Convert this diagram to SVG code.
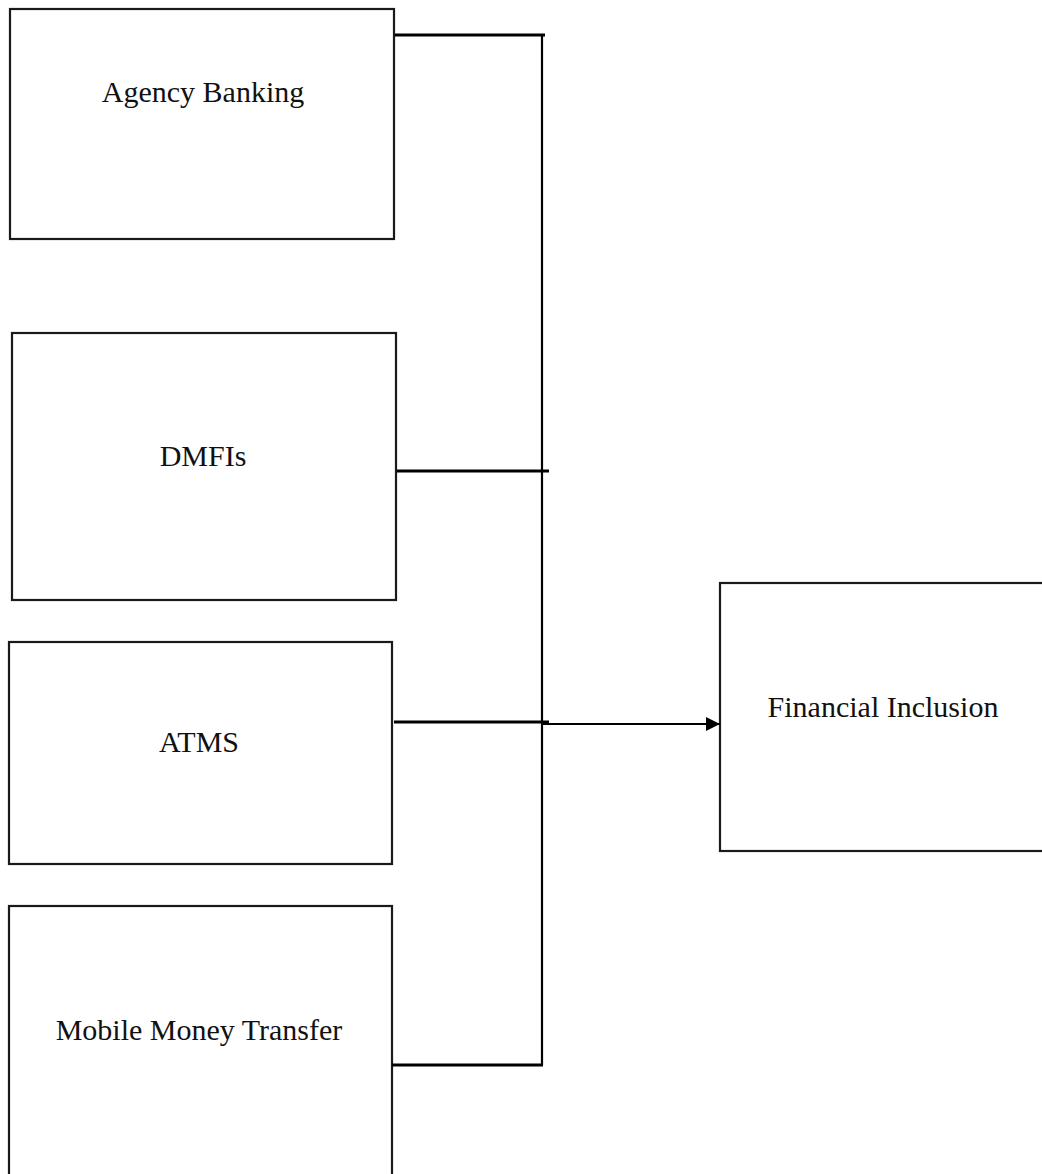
<svg xmlns="http://www.w3.org/2000/svg" width="1042" height="1174" viewBox="0 0 1042 1174">
  <style>
    .box { fill: #ffffff; stroke: #1a1a1a; stroke-width: 2.2; }
    .lbl { font-family: "Liberation Serif", "Times New Roman", serif; font-size: 30px; fill: #111111; text-anchor: middle; }
    .thick { stroke: #000000; stroke-width: 3.2; fill: none; }
    .vert { stroke: #000000; stroke-width: 2.2; fill: none; }
    .thin { stroke: #000000; stroke-width: 1.8; fill: none; }
  </style>
  <defs>
    <marker id="arrow" markerUnits="userSpaceOnUse" markerWidth="14" markerHeight="14" refX="14" refY="7" orient="auto">
      <path d="M0,0 L14,7 L0,14 Z" fill="#000000"/>
    </marker>
  </defs>
  <rect width="1042" height="1174" fill="#ffffff"/>

  <g id="node-agency-banking">
    <rect class="box" x="10" y="9" width="384" height="230"/>
    <text class="lbl" x="203" y="102">Agency Banking</text>
  </g>
  <g id="node-dmfis">
    <rect class="box" x="12" y="333" width="384" height="267"/>
    <text class="lbl" x="203" y="466">DMFIs</text>
  </g>
  <g id="node-atms">
    <rect class="box" x="9" y="642" width="383" height="222"/>
    <text class="lbl" x="199" y="752">ATMS</text>
  </g>
  <g id="node-mobile-money">
    <rect class="box" x="9" y="906" width="383" height="300"/>
    <text class="lbl" x="199" y="1040">Mobile Money Transfer</text>
  </g>
  <g id="node-financial-inclusion">
    <rect class="box" x="720" y="583" width="360" height="268"/>
    <text class="lbl" x="883" y="717">Financial Inclusion</text>
  </g>

  <g id="connectors">
    <line class="thick" x1="395" y1="35" x2="545" y2="35"/>
    <line class="vert" x1="542" y1="34" x2="542" y2="1065"/>
    <line class="thick" x1="397" y1="471" x2="549" y2="471"/>
    <line class="thick" x1="394" y1="722" x2="549" y2="722"/>
    <line class="thin" x1="542" y1="724" x2="720" y2="724" marker-end="url(#arrow)"/>
    <line class="thick" x1="392" y1="1065" x2="543" y2="1065"/>
  </g>
</svg>
